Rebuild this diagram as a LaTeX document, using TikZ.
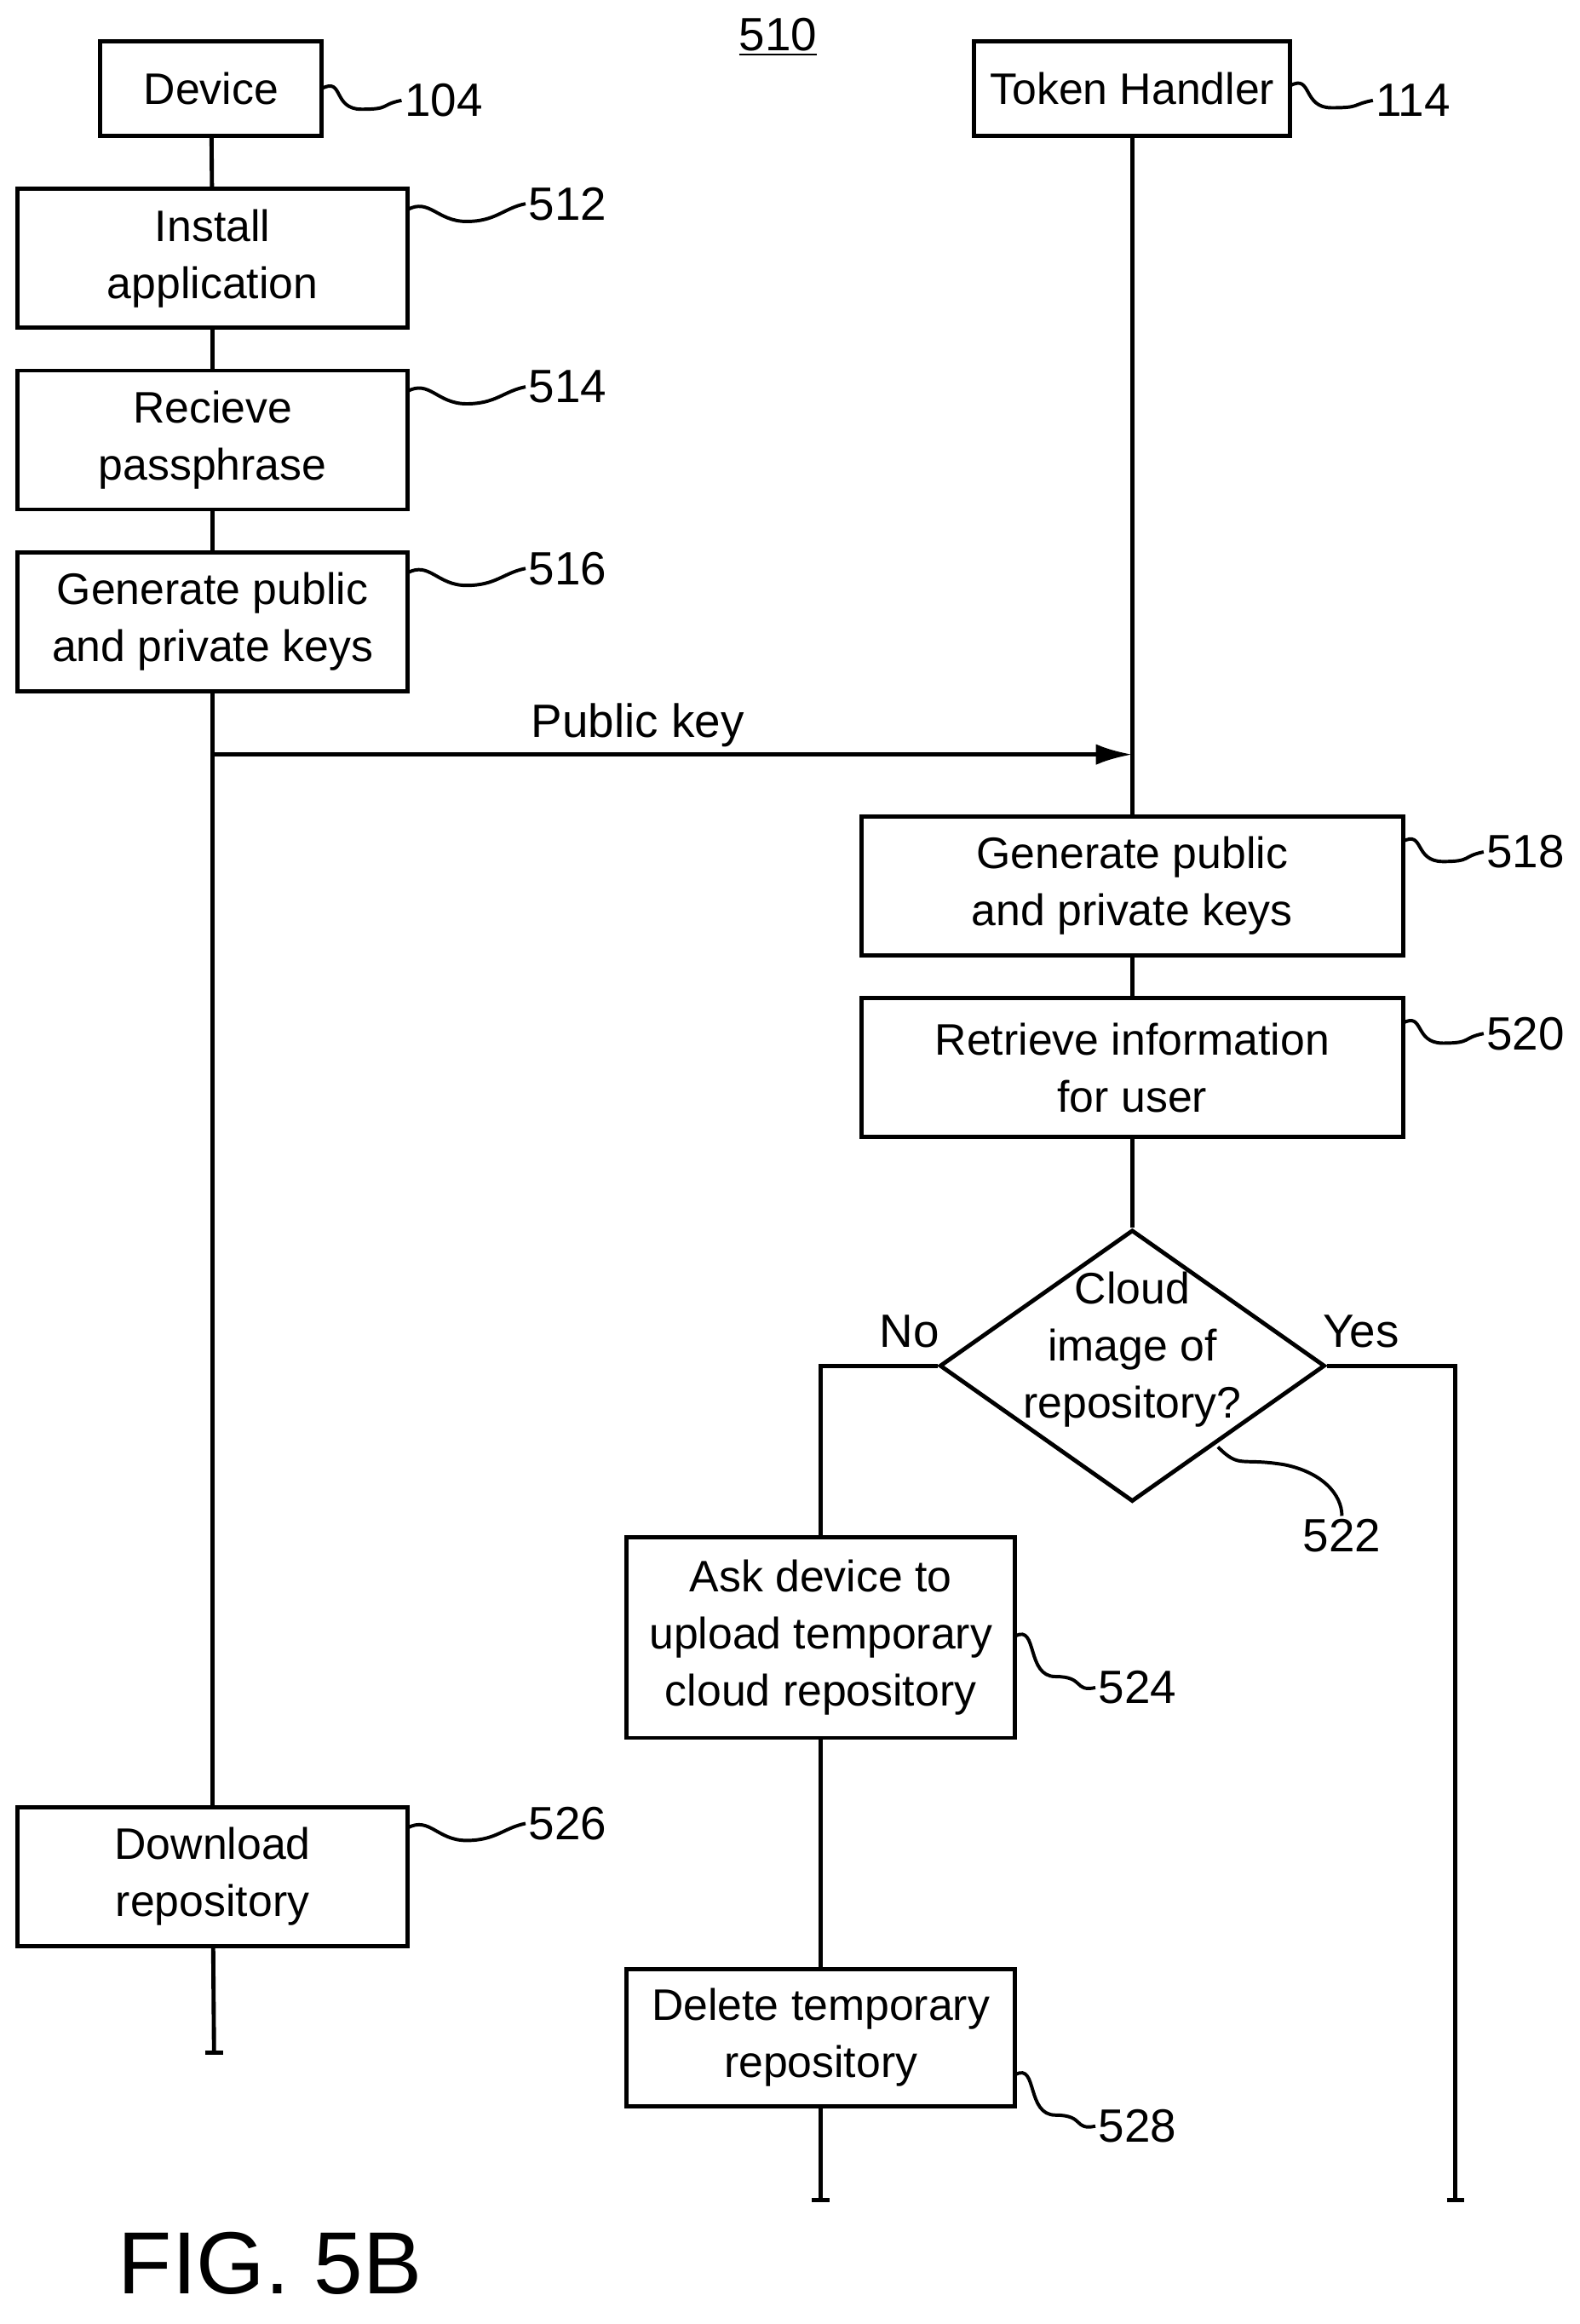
\documentclass[tikz,border=0pt]{standalone}
\usepackage{fontspec}
\setmainfont{Liberation Sans}
\usetikzlibrary{arrows.meta,shapes.geometric,calc}
\begin{document}
\begin{tikzpicture}[x=0.02cm,y=-0.02cm,
  box/.style={draw,line width=1.6pt,align=center,font=\fontsize{17}{22}\selectfont,inner sep=0pt},
  lbl/.style={font=\fontsize{18}{22}\selectfont,inner sep=1pt},
  ln/.style={line width=1.6pt},
  sq/.style={line width=1.3pt}]
\useasboundingbox (0,0) rectangle (1070,1574);
\fill[white] (0,0) rectangle (1070,1574);
\node[lbl] (fig) at (527,25) {\underline{510}};
\node[box,minimum width=150*0.02cm,minimum height=64*0.02cm] (dev) at (143,60) {Device};
\node[box,minimum width=214*0.02cm,minimum height=64*0.02cm] (th) at (767,60) {Token Handler};
\tikzset{lbox/.style={box,minimum width=264*0.02cm,minimum height=94*0.02cm}}
\node[lbox] (b512) at (144,175) {Install\\application};
\node[lbox] (b514) at (144,298) {Recieve\\passphrase};
\node[lbox] (b516) at (144,421) {Generate public\\and private keys};
\node[lbox] (b526) at (144,1271) {Download\\repository};
\tikzset{rbox/.style={box,minimum width=367*0.02cm,minimum height=94*0.02cm}}
\node[rbox] (b518) at (767,600) {Generate public\\and private keys};
\node[rbox] (b520) at (767,723) {Retrieve information\\for user};
\node[draw,line width=1.6pt,diamond,minimum width=261*0.02cm,minimum height=184*0.02cm,aspect=1.42,inner sep=0pt] (d522) at (767,925) {};
\node[align=center,font=\fontsize{17}{22}\selectfont] (dt) at (767,914) {Cloud\\image of\\repository?};
\node[box,minimum width=263*0.02cm,minimum height=136*0.02cm] (b524) at (556,1109) {Ask device to\\upload temporary\\cloud repository};
\node[box,minimum width=263*0.02cm,minimum height=93*0.02cm] (b528) at (556,1380) {Delete temporary\\repository};
% lifelines
\coordinate (lend) at (145,1390);
\coordinate (rtop) at (767,511);
\draw[ln] (dev) -- (b512); \draw[ln] (b512) -- (b514); \draw[ln] (b514) -- (b516);
\draw[ln] (b516) -- (b526); \draw[ln] (b526) -- (lend);
\draw[ln] (lend) ++(-6,0) -- ++(12,0);
\draw[ln] (th) -- (b518); \draw[ln] (b518) -- (b520); \draw[ln] (b520) -- (d522);
\coordinate (pk) at (145,511);
\draw[ln,-{Latex[length=14pt,width=8pt]}] (pk) -- (rtop);
\node[lbl] (pkl) at (432,491) {Public key};
\coordinate (nc) at (556,925);
\draw[ln] (d522.west) -- (nc) -- (b524.north);
\node[lbl] (no) at (616,902) {No};
\coordinate (yc) at (986,925); \coordinate (ye) at (986,1490);
\draw[ln] (d522.east) -- (yc) -- (ye);
\draw[ln] (ye) ++(-6,0) -- ++(12,0);
\node[lbl] (yes) at (922,902) {Yes};
\draw[ln] (b524) -- (b528);
\coordinate (e528) at (556,1490);
\draw[ln] (b528) -- (e528); \draw[ln] (e528) ++(-6,0) -- ++(12,0);
% reference labels with squiggles
\newcommand\sqlab[4]{\node[lbl,anchor=west] (#4) at (#2) {#3};
  \draw[sq] (#1) .. controls +(15,-8) and +(-20,0) .. ($(#1)!0.5!(#4.west)+(0,10)$) .. controls +(20,0) and +(-15,3) .. (#4.west);}
\coordinate (s104) at (218,60); \sqlab{s104}{272,68}{104}{l104}
\coordinate (s114) at (874,58); \sqlab{s114}{930,68}{114}{l114}
\coordinate (s512) at (276,142); \sqlab{s512}{356,138}{512}{l512}
\coordinate (s514) at (276,265); \sqlab{s514}{356,262}{514}{l514}
\coordinate (s516) at (276,388); \sqlab{s516}{356,385}{516}{l516}
\coordinate (s526) at (276,1238); \sqlab{s526}{356,1235}{526}{l526}
\coordinate (s518) at (950,570); \sqlab{s518}{1005,577}{518}{l518}
\coordinate (s520) at (950,693); \sqlab{s520}{1005,700}{520}{l520}
\coordinate (s524) at (688,1108); \sqlab{s524}{742,1143}{524}{l524}
\coordinate (s528) at (688,1405); \sqlab{s528}{742,1440}{528}{l528}
\coordinate (s522) at (825,980);
\node[lbl] (l522) at (909,1040) {522};
\draw[sq] (s522) .. controls +(15,15) and +(-30,-5) .. (870,992) .. controls +(25,5) and +(0,-15) .. (l522.north);
\node[font=\fontsize{34}{40}\selectfont] (f5b) at (183,1533) {FIG. 5B};
\end{tikzpicture}
\end{document}
